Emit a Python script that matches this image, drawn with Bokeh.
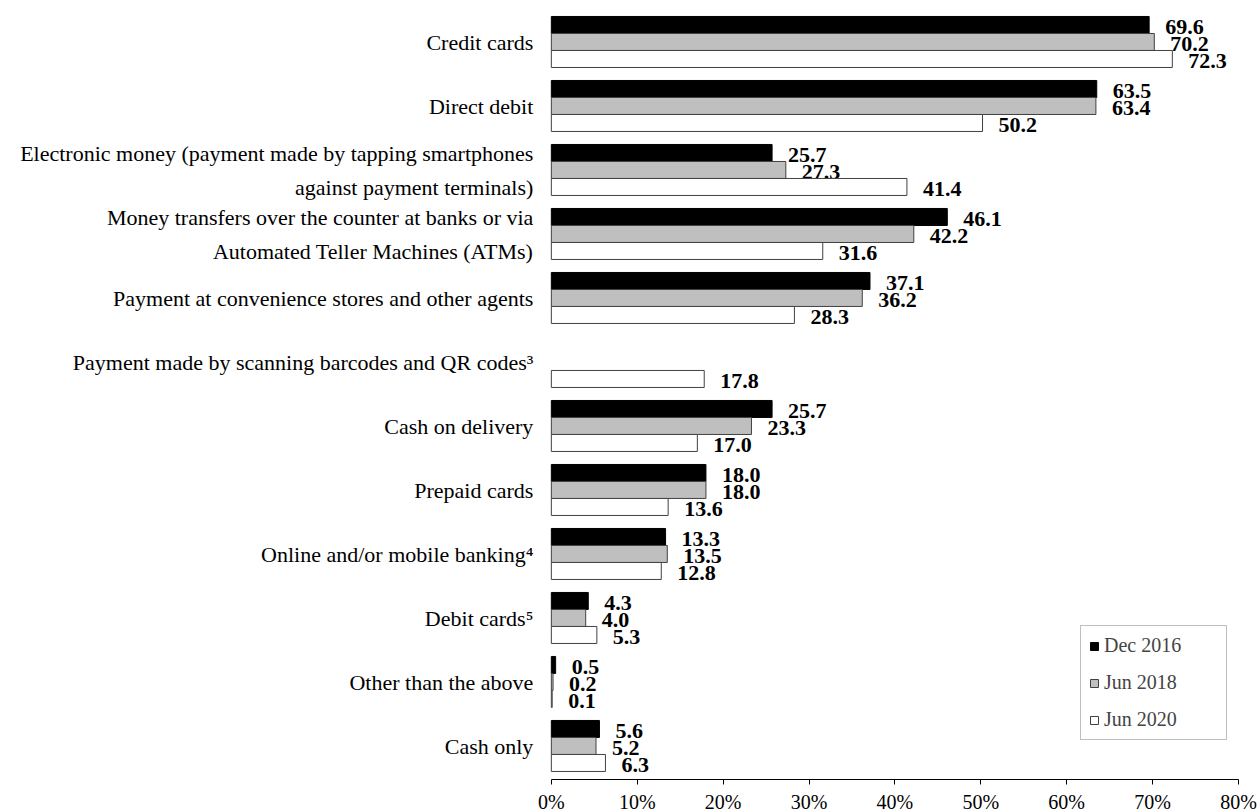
import math
from bokeh.plotting import figure
from bokeh.models import ColumnDataSource, Range1d, FixedTicker, Legend, LegendItem
from bokeh.transform import dodge
from bokeh.core.properties import value
from bokeh.embed import file_html
from bokeh.resources import INLINE

# ---------------- data ----------------
categories = [
    "Credit cards",
    "Direct debit",
    "Electronic money (payment made by tapping smartphones\nagainst payment terminals)",
    "Money transfers over the counter at banks or via\nAutomated Teller Machines (ATMs)",
    "Payment at convenience stores and other agents",
    "Payment made by scanning barcodes and QR codes\u00b3",
    "Cash on delivery",
    "Prepaid cards",
    "Online and/or mobile banking\u2074",
    "Debit cards\u2075",
    "Other than the above",
    "Cash only",
]
series_names = ["Dec 2016", "Jun 2018", "Jun 2020"]
dec_2016 = [69.6, 63.5, 25.7, 46.1, 37.1, None, 25.7, 18.0, 13.3, 4.3, 0.5, 5.6]
jun_2018 = [70.2, 63.4, 27.3, 42.2, 36.2, None, 23.3, 18.0, 13.5, 4.0, 0.2, 5.2]
jun_2020 = [72.3, 50.2, 41.4, 31.6, 28.3, 17.8, 17.0, 13.6, 12.8, 5.3, 0.1, 6.3]
x_ticks = [0, 10, 20, 30, 40, 50, 60, 70, 80]
tick_labels = ["0%", "10%", "20%", "30%", "40%", "50%", "60%", "70%", "80%"]

# ---------------- styling ----------------
FONT = "Liberation Serif"
fills = ["#000000", "#BFBFBF", "#FFFFFF"]
lines = ["#000000", "#404040", "#404040"]
BAR_H = 0.2656
offsets = [BAR_H, 0.0, -BAR_H]

ypos = [-i for i in range(len(categories))]

p = figure(
    frame_width=1242, frame_height=771,
    x_range=Range1d(-63.2, 81.4), y_range=Range1d(-11.524, 0.523),
    output_backend="svg", toolbar_location=None,
    y_axis_location=None, min_border_left=8, min_border_top=8,
    min_border_right=8, min_border_bottom=0,
)
p.outline_line_color = None
p.xgrid.visible = False
p.ygrid.visible = False
p.background_fill_color = "white"
p.border_fill_color = "white"

legend_items = []
for name, vals, fc, lc, off in zip(series_names, [dec_2016, jun_2018, jun_2020], fills, lines, offsets):
    v = [float("nan") if x is None else x for x in vals]
    src = ColumnDataSource(dict(y=ypos, v=v))
    r = p.hbar(y=dodge("y", off, range=p.y_range), right="v", left=0, height=BAR_H,
               source=src, fill_color=fc, line_color=lc, line_width=1)
    legend_items.append(LegendItem(label=name, renderers=[r]))
    lab_y = [y for y, x in zip(ypos, vals) if x is not None]
    lab_v = [x for x in vals if x is not None]
    lsrc = ColumnDataSource(dict(y=lab_y, v=lab_v, t=[f"{x:.1f}" for x in lab_v]))
    p.text(x="v", y=dodge("y", off, range=p.y_range), text="t", source=lsrc,
           x_offset=16, y_offset=2, text_align="left", text_baseline="middle",
           text_font=value(FONT), text_font_size="22px", text_font_style="bold",
           text_color="black")

csrc = ColumnDataSource(dict(x=[0] * len(categories), y=ypos, t=categories))
p.text(x="x", y="y", text="t", source=csrc, x_offset=-18, y_offset=1,
       text_align="right", text_baseline="middle", text_line_height=1.36,
       text_font=value(FONT), text_font_size="22px", text_color="black")

ax = p.xaxis[0]
ax.ticker = FixedTicker(ticks=x_ticks)
ax.major_label_overrides = {t: l for t, l in zip(x_ticks, tick_labels)}
ax.bounds = (0, 80)
ax.minor_tick_line_color = None
ax.major_tick_out = 5
ax.major_tick_in = 0
ax.axis_line_color = "black"
ax.major_tick_line_color = "black"
ax.major_label_text_font = FONT
ax.major_label_text_font_size = "20px"
ax.major_label_text_color = "black"
ax.major_label_standoff = 6

legend = Legend(items=legend_items, location=(1072, 39),
                padding=8, spacing=14, glyph_width=10, glyph_height=10,
                label_height=20, label_standoff=5, label_width=114,
                label_text_font=FONT, label_text_font_size="20px",
                border_line_color="#808080", border_line_width=1,
                background_fill_color="white", background_fill_alpha=1.0)
p.add_layout(legend)

open("out.html", "w").write(file_html(p, INLINE))
